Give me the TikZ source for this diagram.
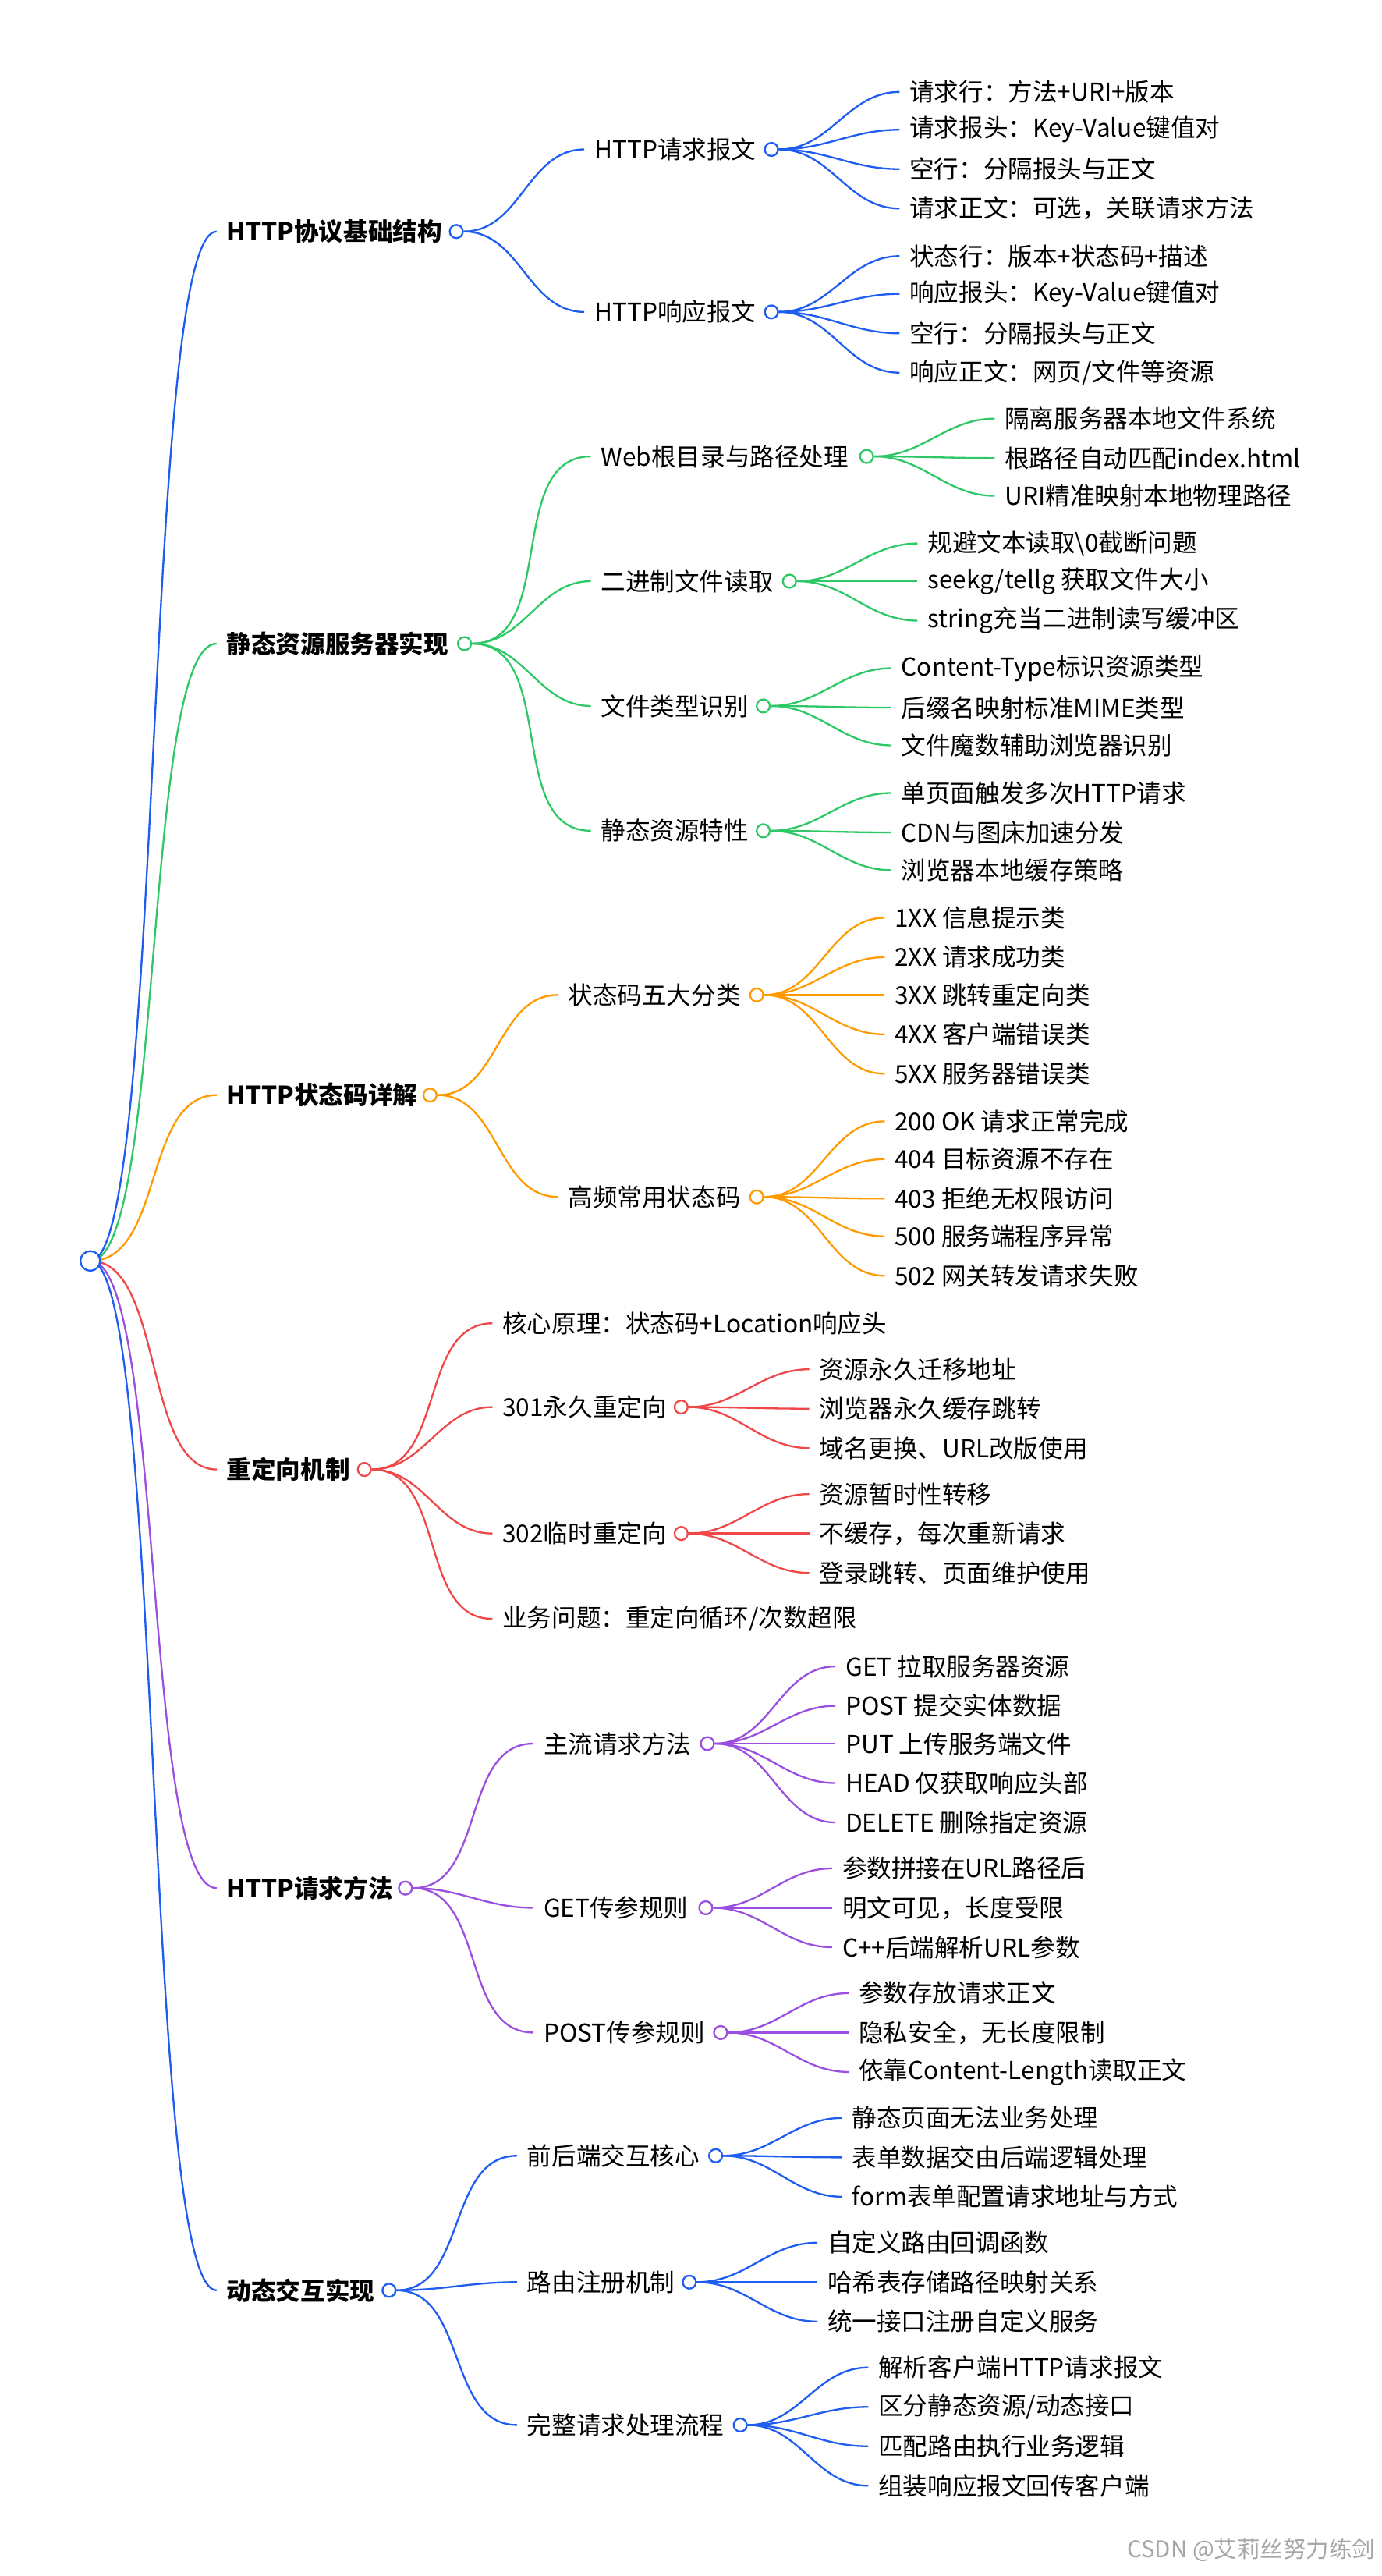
\documentclass[tikz,border=0pt]{standalone}
\usepackage{fontspec}
\setmainfont{Noto Sans CJK SC}
\begin{document}
\begin{tikzpicture}[x=1pt,y=-1pt,
  txt/.style={anchor=west,inner sep=0pt,font=\fontsize{15}{17}\selectfont},
  bold/.style={txt,font=\fontsize{15}{17}\selectfont\bfseries},
  dot/.style={circle,draw=#1,fill=white,line width=1.1pt,minimum size=8pt,inner sep=0pt},
  con/.style={draw=#1,line width=1.1pt},
]
\definecolor{cb}{HTML}{1F5CF0}
\definecolor{cg}{HTML}{2EC866}
\definecolor{co}{HTML}{FF9A00}
\definecolor{cr}{HTML}{F04848}
\definecolor{cp}{HTML}{9A4FE0}
\path[use as bounding box] (0,0) rectangle (842,1569);
\fill[white] (0,0) rectangle (842,1569);
\newcommand\LeafN[6]{\node[txt] (#1) at (#4,#5) {#6};
  \draw[con=#3] (#2) to[out=0,in=180] ([xshift=-6pt]#1.west);}
\newcommand\MidN[8]{\node[#8] (#1) at (#4,#5) {#7};
  \draw[con=#3] (#2) to[out=0,in=180] ([xshift=-6pt]#1.west);
  \node[dot=#3] (#1c) at (#6,#5) {};}
\newcommand\TopN[6]{\node[bold] (#1) at (138,#4) {#6};
  \draw[con=#3] (#2) .. controls +(45,0) and +(-45,0) .. ([xshift=-6pt]#1.west);
  \node[dot=#3] (#1c) at (#5,#4) {};}
\coordinate (rootc) at (55,768);
% 1
\TopN{a}{rootc}{cb}{141}{278}{HTTP协议基础结构}
\MidN{a1}{ac.east}{cb}{362}{91}{470}{HTTP请求报文}{txt}
\LeafN{a11}{a1c.east}{cb}{554}{56}{请求行：方法+URI+版本}
\LeafN{a12}{a1c.east}{cb}{554}{79}{请求报头：Key-Value键值对}
\LeafN{a13}{a1c.east}{cb}{554}{103}{空行：分隔报头与正文}
\LeafN{a14}{a1c.east}{cb}{554}{127}{请求正文：可选，关联请求方法}
\MidN{a2}{ac.east}{cb}{362}{190}{470}{HTTP响应报文}{txt}
\LeafN{a21}{a2c.east}{cb}{554}{156}{状态行：版本+状态码+描述}
\LeafN{a22}{a2c.east}{cb}{554}{179}{响应报头：Key-Value键值对}
\LeafN{a23}{a2c.east}{cb}{554}{203}{空行：分隔报头与正文}
\LeafN{a24}{a2c.east}{cb}{554}{227}{响应正文：网页/文件等资源}
% 2
\TopN{b}{rootc}{cg}{392}{283}{静态资源服务器实现}
\MidN{b1}{bc.east}{cg}{366}{278}{528}{Web根目录与路径处理}{txt}
\LeafN{b11}{b1c.east}{cg}{612}{255}{隔离服务器本地文件系统}
\LeafN{b12}{b1c.east}{cg}{612}{279}{根路径自动匹配index.html}
\LeafN{b13}{b1c.east}{cg}{612}{302}{URI精准映射本地物理路径}
\MidN{b2}{bc.east}{cg}{366}{354}{481}{二进制文件读取}{txt}
\LeafN{b21}{b2c.east}{cg}{565}{331}{规避文本读取\textbackslash 0截断问题}
\LeafN{b22}{b2c.east}{cg}{565}{354}{seekg/tellg 获取文件大小}
\LeafN{b23}{b2c.east}{cg}{565}{378}{string充当二进制读写缓冲区}
\MidN{b3}{bc.east}{cg}{366}{430}{465}{文件类型识别}{txt}
\LeafN{b31}{b3c.east}{cg}{549}{407}{Content-Type标识资源类型}
\LeafN{b32}{b3c.east}{cg}{549}{431}{后缀名映射标准MIME类型}
\LeafN{b33}{b3c.east}{cg}{549}{454}{文件魔数辅助浏览器识别}
\MidN{b4}{bc.east}{cg}{366}{506}{465}{静态资源特性}{txt}
\LeafN{b41}{b4c.east}{cg}{549}{483}{单页面触发多次HTTP请求}
\LeafN{b42}{b4c.east}{cg}{549}{507}{CDN与图床加速分发}
\LeafN{b43}{b4c.east}{cg}{549}{530}{浏览器本地缓存策略}
% 3
\TopN{c}{rootc}{co}{667}{262}{HTTP状态码详解}
\MidN{c1}{cc.east}{co}{346}{606}{461}{状态码五大分类}{txt}
\LeafN{c11}{c1c.east}{co}{545}{559}{1XX 信息提示类}
\LeafN{c12}{c1c.east}{co}{545}{583}{2XX 请求成功类}
\LeafN{c13}{c1c.east}{co}{545}{606}{3XX 跳转重定向类}
\LeafN{c14}{c1c.east}{co}{545}{630}{4XX 客户端错误类}
\LeafN{c15}{c1c.east}{co}{545}{654}{5XX 服务器错误类}
\MidN{c2}{cc.east}{co}{346}{729}{461}{高频常用状态码}{txt}
\LeafN{c21}{c2c.east}{co}{545}{683}{200 OK 请求正常完成}
\LeafN{c22}{c2c.east}{co}{545}{706}{404 目标资源不存在}
\LeafN{c23}{c2c.east}{co}{545}{730}{403 拒绝无权限访问}
\LeafN{c24}{c2c.east}{co}{545}{753}{500 服务端程序异常}
\LeafN{c25}{c2c.east}{co}{545}{777}{502 网关转发请求失败}
% 4
\TopN{d}{rootc}{cr}{895}{222}{重定向机制}
\LeafN{d0}{dc.east}{cr}{306}{806}{核心原理：状态码+Location响应头}
\MidN{d1}{dc.east}{cr}{306}{857}{415}{301永久重定向}{txt}
\LeafN{d11}{d1c.east}{cr}{499}{834}{资源永久迁移地址}
\LeafN{d12}{d1c.east}{cr}{499}{858}{浏览器永久缓存跳转}
\LeafN{d13}{d1c.east}{cr}{499}{882}{域名更换、URL改版使用}
\MidN{d2}{dc.east}{cr}{306}{934}{415}{302临时重定向}{txt}
\LeafN{d21}{d2c.east}{cr}{499}{910}{资源暂时性转移}
\LeafN{d22}{d2c.east}{cr}{499}{934}{不缓存，每次重新请求}
\LeafN{d23}{d2c.east}{cr}{499}{958}{登录跳转、页面维护使用}
\LeafN{d3}{dc.east}{cr}{306}{986}{业务问题：重定向循环/次数超限}
% 5
\TopN{e}{rootc}{cp}{1150}{247}{HTTP请求方法}
\MidN{e1}{ec.east}{cp}{331}{1062}{431}{主流请求方法}{txt}
\LeafN{e11}{e1c.east}{cp}{515}{1015}{GET 拉取服务器资源}
\LeafN{e12}{e1c.east}{cp}{515}{1039}{POST 提交实体数据}
\LeafN{e13}{e1c.east}{cp}{515}{1062}{PUT 上传服务端文件}
\LeafN{e14}{e1c.east}{cp}{515}{1086}{HEAD 仅获取响应头部}
\LeafN{e15}{e1c.east}{cp}{515}{1110}{DELETE 删除指定资源}
\MidN{e2}{ec.east}{cp}{331}{1162}{430}{GET传参规则}{txt}
\LeafN{e21}{e2c.east}{cp}{513}{1138}{参数拼接在URL路径后}
\LeafN{e22}{e2c.east}{cp}{513}{1162}{明文可见，长度受限}
\LeafN{e23}{e2c.east}{cp}{513}{1186}{C++后端解析URL参数}
\MidN{e3}{ec.east}{cp}{331}{1238}{439}{POST传参规则}{txt}
\LeafN{e31}{e3c.east}{cp}{523}{1214}{参数存放请求正文}
\LeafN{e32}{e3c.east}{cp}{523}{1238}{隐私安全，无长度限制}
\LeafN{e33}{e3c.east}{cp}{523}{1262}{依靠Content-Length读取正文}
% 6
\TopN{f}{rootc}{cb}{1395}{237}{动态交互实现}
\MidN{f1}{fc.east}{cb}{321}{1313}{436}{前后端交互核心}{txt}
\LeafN{f11}{f1c.east}{cb}{519}{1290}{静态页面无法业务处理}
\LeafN{f12}{f1c.east}{cb}{519}{1314}{表单数据交由后端逻辑处理}
\LeafN{f13}{f1c.east}{cb}{519}{1338}{form表单配置请求地址与方式}
\MidN{f2}{fc.east}{cb}{321}{1390}{420}{路由注册机制}{txt}
\LeafN{f21}{f2c.east}{cb}{504}{1366}{自定义路由回调函数}
\LeafN{f22}{f2c.east}{cb}{504}{1390}{哈希表存储路径映射关系}
\LeafN{f23}{f2c.east}{cb}{504}{1414}{统一接口注册自定义服务}
\MidN{f3}{fc.east}{cb}{321}{1477}{451}{完整请求处理流程}{txt}
\LeafN{f31}{f3c.east}{cb}{535}{1442}{解析客户端HTTP请求报文}
\LeafN{f32}{f3c.east}{cb}{535}{1466}{区分静态资源/动态接口}
\LeafN{f33}{f3c.east}{cb}{535}{1490}{匹配路由执行业务逻辑}
\LeafN{f34}{f3c.east}{cb}{535}{1514}{组装响应报文回传客户端}
\node[dot=cb,minimum size=12pt] (rootdot) at (55,768) {};
\node[anchor=east,inner sep=0pt,text=gray!70,font=\fontsize{14}{16}\selectfont] (wm) at (838,1553) {CSDN @艾莉丝努力练剑};
\end{tikzpicture}
\end{document}
